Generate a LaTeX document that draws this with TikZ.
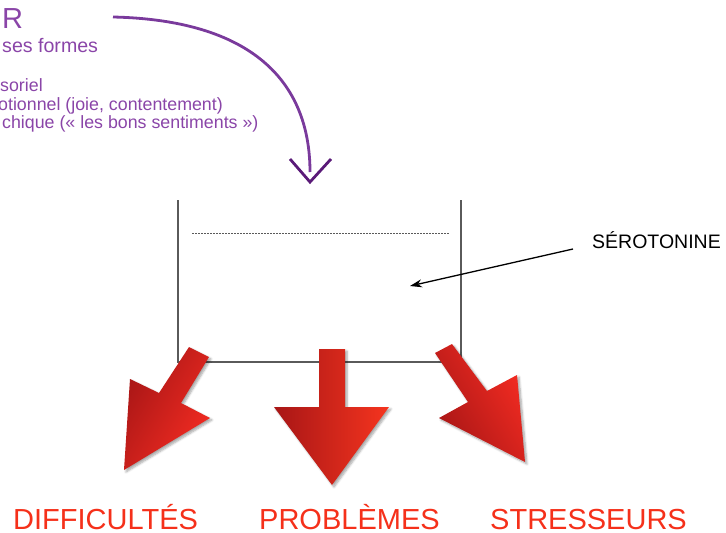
\documentclass[tikz,border=0pt]{standalone}
\usepackage{fontspec}
\setmainfont{Liberation Sans}
\usetikzlibrary{shadows.blur,arrows.meta}
\definecolor{purpletxt}{HTML}{8A45A8}
\definecolor{purpleline}{HTML}{7A3A9C}
\definecolor{purpledark}{HTML}{5A1A78}
\definecolor{boxgray}{HTML}{5A5A5A}
\definecolor{reddark}{HTML}{A81616}
\definecolor{redlight}{HTML}{F42C22}
\definecolor{labelred}{HTML}{F5301A}
\begin{document}
\begin{tikzpicture}[x=1pt,y=-1pt,
  ptxt/.style={anchor=base west, inner sep=0pt, text=purpletxt, font=\fontsize{17.8}{20}\selectfont},
  lbl/.style={anchor=base west, inner sep=0pt, text depth=0pt, text=labelred, font=\fontsize{29}{32}\selectfont},
  redarrow/.style={blur shadow={shadow xshift=2pt, shadow yshift=-2pt, shadow blur steps=6, shadow opacity=35}},
  boxline/.style={boxgray, line width=1.2pt},
]
\useasboundingbox (0,0) rectangle (726,533);

% purple texts (cut at the left edge)
\node[anchor=base west, inner sep=0pt, text=purpletxt, font=\fontsize{29}{32}\selectfont] (r) at (2,28) {R};
\node[ptxt, font=\fontsize{19.6}{22}\selectfont] (t1) at (2,52) {ses formes};
\node[ptxt] (t2) at (0,91) {soriel};
\node[ptxt] (t3) at (-2,110) {otionnel (joie, contentement)};
\node[ptxt] (t4) at (2,128) {chique (« les bons sentiments »)};

% purple curved arrow
\coordinate (p0) at (113,17);
\coordinate (p1) at (310,172);
\draw[purpleline, line width=2.8pt] (p0) .. controls (250,20) and (310,80) .. (p1);
\coordinate (c1) at (290,159);
\coordinate (c2) at (310,182);
\coordinate (c3) at (331,159);
\draw[purpledark, line width=2.8pt] (c1) -- (c2) -- (c3);

% container
\coordinate (b1) at (178,200);
\coordinate (b2) at (178,362);
\coordinate (b3) at (461,362);
\coordinate (b4) at (461,200);
\draw[boxline] (b1) -- (b2) -- (b3) -- (b4);
\coordinate (d1) at (192,233);
\coordinate (d2) at (449,233);
\draw[boxgray, line width=1pt, dash pattern=on 1.5pt off 1.5pt] (d1) -- (d2);

% serotonine
\node[anchor=base west, inner sep=0pt, font=\fontsize{19.5}{22}\selectfont] (ser) at (592,248) {SÉROTONINE};
\coordinate (s0) at (573,249);
\coordinate (s1) at (410,286);
\draw[-{Stealth[length=12pt,width=8pt]}, line width=1.3pt] (s0) -- (s1);

% red arrows
\path[redarrow, left color=reddark, right color=redlight, shading angle=60]
  (189,347) -- (209,357) -- (181,403) -- (210,418) -- (124,470) -- (130,379) -- (159,393) -- cycle;
\path[redarrow, left color=reddark, right color=redlight!90!orange]
  (319,349) -- (345,349) -- (345,407) -- (389,407) -- (332,485) -- (274,407) -- (319,407) -- cycle;
\path[redarrow, left color=reddark, right color=redlight, shading angle=120]
  (435,353) -- (452,344) -- (487,391) -- (517,375) -- (525,462) -- (439,418) -- (468,402) -- cycle;

% labels
\node[lbl] (l1) at (13,529) {DIFFICULTÉS};
\node[lbl] (l2) at (259,529) {PROBLÈMES};
\node[lbl] (l3) at (490,529) {STRESSEURS};
\end{tikzpicture}
\end{document}
